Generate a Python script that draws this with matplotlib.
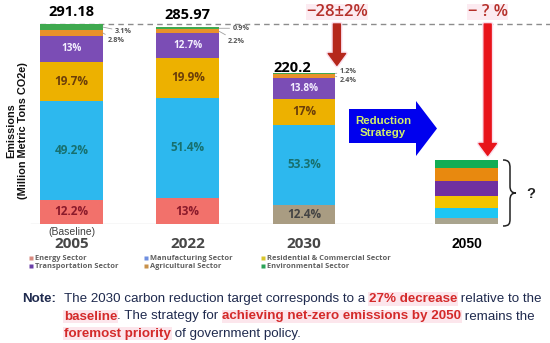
import matplotlib
matplotlib.use("Agg")
import matplotlib.pyplot as plt
from matplotlib.patches import Polygon, PathPatch
from matplotlib.path import Path
import matplotlib.patheffects as pe

# ---------------- data ----------------
years = ["2005", "2022", "2030", "2050"]
totals = [291.18, 285.97, 220.2]
sectors = ["Energy Sector", "Manufacturing Sector", "Residential & Commercial Sector",
           "Transportation Sector", "Agricultural Sector", "Environmental Sector"]
shares_2005 = [12.2, 49.2, 19.7, 13.0, 2.8, 3.1]
shares_2022 = [13.0, 51.4, 19.9, 12.7, 2.2, 0.9]
shares_2030 = [12.4, 53.3, 17.0, 13.8, 2.4, 1.2]
shares = [shares_2005, shares_2022, shares_2030]
# 2050: unknown ("?") illustrative stack heights
stack_2050 = [8.7, 14.6, 17.5, 21.8, 18.9, 11.6]
reduction_2030 = "\u221228\u00b12%"
reduction_2050 = "\u2212 ? %"

# ---------------- styles ----------------
seg_colors = ["#F2716B", "#2DB8EE", "#EDB100", "#7B4DB5", "#E8912A", "#3FA94F"]
energy_colors = ["#F2716B", "#F2716B", "#A99C82"]
colors_2050 = ["#A9A48E", "#1EC6F4", "#F2C400", "#7030A0", "#E8890F", "#12AD55"]
legend_colors = ["#D98A80", "#6F8FE0", "#D8C62C", "#6A3FA8", "#C8914A", "#2BA357"]
label_colors = ["#8B1A2B", "#17706E", "#6B3E0A", "#F4F0FF"]
navy = "#1F2A4E"
red = "#D42A2A"

W, H = 550, 343
fig = plt.figure(figsize=(5.5, 3.43), dpi=100)
fig.patch.set_facecolor("white")

px_per_unit = 200 / totals[0]
base_px = 224
xunit = 116.25
x0px = 71.5
ax = fig.add_axes([0, (H - base_px) / H, 1, base_px / H])
ax.set_ylim(0, base_px / px_per_unit)
ax.set_xlim(-x0px / xunit, (W - x0px) / xunit)
ax.axis("off")
ax.set_facecolor("none")

xpos = [0, 1, 2, 3.4]
bw = 0.54
fnt = "Open Sans"

# baseline axis line
ax.plot([-0.35, 3.1], [0, 0], color="#D9D9D9", lw=1, zorder=0)
# dashed reference line at baseline total
ax.plot([-bw / 2, (W - x0px) / xunit], [totals[0]] * 2, color="#8C8C8C",
        lw=1, ls=(0, (4, 3)), zorder=1)

for i in range(3):
    bottom = 0
    for k, s in enumerate(shares[i]):
        h = totals[i] * s / 100
        c = energy_colors[i] if k == 0 else seg_colors[k]
        ax.bar(xpos[i], h, bw, bottom=bottom, color=c, edgecolor="none", zorder=2)
        if k < 4:
            lc = label_colors[k]
            if k == 0 and i == 2:
                lc = "#444444"
            fs = 7.2 if k == 3 else 8.5
            ax.text(xpos[i], bottom + h / 2, f"{s:g}%", ha="center", va="center",
                    fontsize=fs, fontweight="bold", color=lc, family=fnt, zorder=3)
        bottom += h

# 2050 illustrative bar
bottom = 0
for k, v in enumerate(stack_2050):
    ax.bar(xpos[3], v, bw, bottom=bottom, color=colors_2050[k], edgecolor="none", zorder=2)
    bottom += v

# totals
tot_off = [(0, 8.6), (0, 9.0), (-8.6, 3.4)]
for i in range(3):
    ax.annotate(f"{totals[i]:g}", (xpos[i], totals[i]), xytext=tot_off[i],
                textcoords="offset points", ha="center", va="center",
                fontsize=10.5, fontweight="bold", family=fnt, color="black",
                annotation_clip=False)

# small outside labels with leaders
small_off = {0: [(8.5, -3), (3.5, -5.5)], 1: [(9.5, 0), (6.5, -7)], 2: [(3, 1.8), (3, -3)]}
for i in range(3):
    for j, k in enumerate([5, 4]):
        s = shares[i][k]
        lo = sum(shares[i][:k])
        ymid = totals[i] * (lo + s / 2) / 100
        ax.annotate(f"{s:g}%", (xpos[i] + bw / 2, ymid), xytext=small_off[i][j],
                    textcoords="offset points", ha="left", va="center",
                    fontsize=5.2, color="#555555", family=fnt, fontweight="bold",
                    arrowprops=dict(arrowstyle="-", color="#A0A0A0", lw=0.6,
                                    shrinkA=0, shrinkB=0),
                    annotation_clip=False)

# red reduction arrows
arr_x = [2 + 0.283, 3.58]
arr_end = [231, 100]
arr_col = ["#B5271C", "#E8141B"]
arr_lbl = [reduction_2030, reduction_2050]
for ax_x, ye, c, lbl in zip(arr_x, arr_end, arr_col, arr_lbl):
    ax.annotate("", xy=(ax_x, ye), xytext=(ax_x, totals[0]),
                arrowprops=dict(arrowstyle="simple,head_width=1.25,head_length=0.85,tail_width=0.5",
                                color=c, shrinkA=0, shrinkB=0,
                                path_effects=[pe.withStroke(linewidth=3, foreground="#FADDEB")]),
                annotation_clip=False, zorder=4)
    ax.text(ax_x, (base_px - 12) / px_per_unit, lbl, ha="center", va="center",
            fontsize=12, color="#B5302A", family=fnt, fontweight="semibold",
            bbox=dict(facecolor="#FCEBF1", edgecolor="none", pad=0.3), zorder=5)

# year labels
for i, y in enumerate(years):
    col = "black" if i == 3 else "#474747"
    fam = "Liberation Sans" if i == 3 else fnt
    ax.text(xpos[i], -19.5 / px_per_unit, y, ha="center", va="center", fontsize=11 if i < 3 else 10,
            fontweight="bold", color=col, family=fam)
ax.text(xpos[0], -8 / px_per_unit, "(Baseline)", ha="center", va="center",
        fontsize=7.5, color="#404040", family="Liberation Sans")

# ---------------- overlay in pixel coordinates ----------------
ov = fig.add_axes([0, 0, 1, 1])
ov.set_xlim(0, W)
ov.set_ylim(H, 0)
ov.axis("off")
ov.set_facecolor("none")

# y label
ov.text(17, 131, "Emissions\n(Million Metric Tons CO2e)", rotation=90, ha="center",
        va="center", multialignment="center", fontsize=7.8, fontweight="bold",
        family="Liberation Sans", color="#111111", linespacing=1.15)

# blue reduction strategy arrow
ov.add_patch(Polygon([(349, 109), (416, 109), (416, 101), (437, 128.5), (416, 156),
                      (416, 143), (349, 143)], closed=True, facecolor="#0000EE",
                     edgecolor="none", zorder=3))
ov.text(383, 127, "Reduction\nStrategy", ha="center", va="center", fontsize=8.2,
        fontweight="bold", color="#D2F06A", family="Liberation Sans", linespacing=1.2, zorder=4)

# brace and question mark
verts = [(503, 160), (509, 160), (510, 163), (510, 168), (510, 186),
         (510, 191), (512, 193), (516, 193),
         (512, 193), (510, 195), (510, 200), (510, 219),
         (510, 224), (509, 226), (503, 226)]
codes = [Path.MOVETO, Path.CURVE4, Path.CURVE4, Path.CURVE4, Path.LINETO,
         Path.CURVE4, Path.CURVE4, Path.CURVE4,
         Path.CURVE4, Path.CURVE4, Path.CURVE4, Path.LINETO,
         Path.CURVE4, Path.CURVE4, Path.CURVE4]
ov.add_patch(PathPatch(Path(verts, codes), facecolor="none", edgecolor="#222222", lw=1.1))
ov.text(531, 194, "?", ha="center", va="center", fontsize=10.5, fontweight="bold",
        family="Liberation Sans", color="#222222")

# legend
col_x = [31, 146, 263]
row_y = [258, 266]
for i, s in enumerate(sectors):
    cx, ry = col_x[i % 3], row_y[i // 3]
    ov.plot([cx], [ry], marker="s", ms=2.6, color=legend_colors[i], mec="none")
    ov.text(cx + 4, ry, s, ha="left", va="center", fontsize=5.4, color="#606060",
            family=fnt, fontweight="bold")

# note text
fs_note = 9.6
hl = dict(facecolor="#FCE6EC", edgecolor="none", pad=0.5)
ov.text(22, 302, "Note:", ha="left", va="baseline", fontsize=fs_note, fontweight="bold",
        color=navy, family="Liberation Sans")
lines = [
    [("The 2030 carbon reduction target corresponds to a ", False), ("27% decrease", True),
     (" relative to the", False)],
    [("baseline", True), (". The strategy for ", False),
     ("achieving net-zero emissions by 2050", True), (" remains the", False)],
    [("foremost priority", True), (" of government policy.", False)],
]
line_y = [302, 319.5, 336.5]
for ly, pieces in zip(line_y, lines):
    prev = None
    for txt, emph in pieces:
        kw = dict(fontsize=fs_note, family="Liberation Sans",
                  color=red if emph else navy, fontweight="bold" if emph else "normal")
        if emph:
            kw["bbox"] = hl
        if prev is None:
            prev = ov.text(64, ly, txt, ha="left", va="baseline", **kw)
        else:
            prev = ov.annotate(txt, xy=(1, 0), xycoords=prev, ha="left", va="bottom", **kw)

fig.savefig("out.png", dpi=100, facecolor="white")
